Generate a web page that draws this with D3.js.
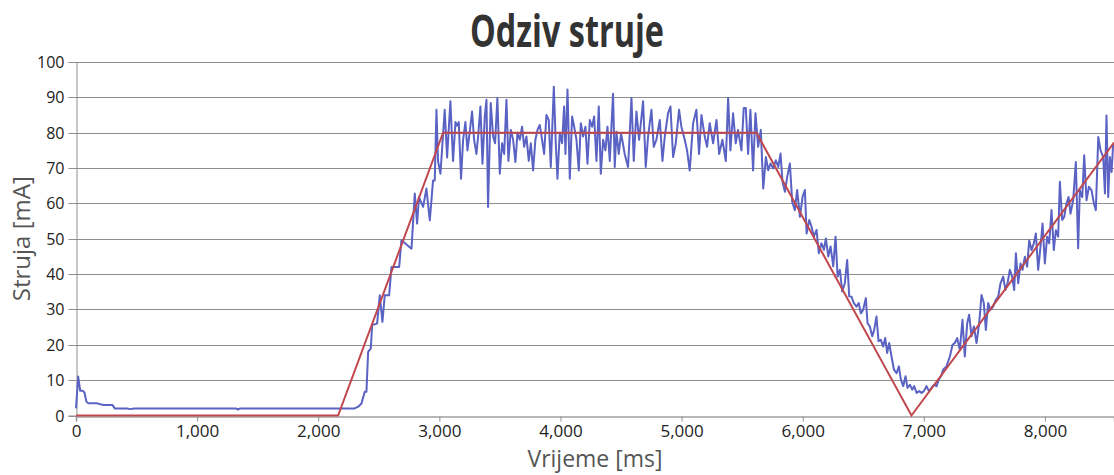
<!DOCTYPE html>
<html>
<head>
<meta charset="utf-8">
<script src="https://cdn.jsdelivr.net/npm/d3@7"></script>
<style>
  html, body { margin: 0; padding: 0; background: #fff; }
  svg { display: block; }
  text { font-family: "Open Sans", "DejaVu Sans", sans-serif; }
</style>
</head>
<body>
<svg id="chart" width="1114" height="475"></svg>
<script>
// measured current (blue) as [time ms, current mA]
var measured = [
  [0,2],[18,11],[35,7],[55,7],[70,6.5],[85,4],[100,3.5],[170,3.5],[200,3.2],[230,3],[300,3],[320,2],
  [420,2],[450,1.8],[480,2],[1320,2],[1337,1.7],[1355,2],[2300,2],[2330,2.5],[2357,3.4],[2384,6.7],
  [2398,6.7],[2412,18],[2434,19],[2445,25.6],[2486,26],[2508,34],[2530,26.5],[2549,34],[2585,34],
  [2605,42],[2668,42],[2687,49.6],[2770,47.2],[2797,62.8],[2816,54.3],[2832,61.8],[2866,59],
  [2893,64.2],[2921,55.2],[2948,66.5],[2962,66.5],
  [2976,86.5],[2989,72],[3009,68.4],[3044,86.5],[3064,73],[3091,88.9],[3113,72],[3133,83],[3146,82],
  [3160,83],[3179,67],[3196,78],[3215,83],[3232,75],[3251,80.3],[3270,86],[3287,78],[3306,74],
  [3320,78.9],[3339,87.4],[3356,71.2],[3375,84.6],[3389,89.3],[3402,59],[3424,88.4],[3444,78.9],
  [3460,77],[3479,89.8],[3499,68.4],[3518,77],[3535,74],[3554,89.3],[3570,72],[3590,80.8],[3609,78],
  [3628,71.7],[3645,80],[3664,78],[3683,81.7],[3700,76],[3719,78.9],[3738,72],[3755,77],[3774,69.3],
  [3793,78],[3810,80.8],[3829,82.2],[3848,78],[3865,74],[3884,85],[3903,83.6],[3920,70.3],[3945,93],
  [3961,77],[3975,67],[3994,80],[4013,77],[4030,87.4],[4041,74],[4058,92.2],[4077,67],[4096,84.6],
  [4113,81.7],[4132,78],[4151,69.3],[4168,82.7],[4187,78.9],[4206,81.7],[4223,71.2],[4242,83.6],
  [4261,81.7],[4278,84.6],[4297,72],[4316,87.4],[4333,68.4],[4352,78],[4371,75],[4388,81.7],
  [4407,72],[4434,91],[4448,70.3],[4462,80.3],[4481,74],
  [4500,79.8],[4515,77],[4530,74],[4558,70.3],[4586,89.8],[4605,72],[4627,86],[4649,78],[4668,84.1],
  [4682,88.9],[4704,70.3],[4723,78.9],[4751,86.5],[4770,76],[4792,78],[4820,83.6],[4842,72],
  [4861,78.9],[4888,85.5],[4908,87.4],[4930,73.1],[4952,77],[4979,86.5],[4998,81.7],[5026,78],
  [5045,75],[5067,69.3],[5095,82.7],[5122,86.5],[5144,74],[5164,85],[5191,78.9],[5210,76],
  [5232,82.7],[5260,77],[5288,83.6],[5310,74],[5337,78],[5365,72],[5384,89.8],[5403,75],[5425,85.5],
  [5447,77],[5466,80.8],[5494,75],[5513,87],[5530,87],[5549,74],[5568,86.5],[5590,69.3],[5610,85.5],
  [5632,76],[5654,80.8],
  [5674,64.2],[5696,73.1],[5715,69.4],[5734,71.3],[5756,69.9],[5778,72.2],[5798,70.3],[5817,74.1],
  [5833,66.1],[5853,63.3],[5872,67.5],[5894,71.3],[5913,60.5],[5935,58.1],[5954,63.8],[5977,56.2],
  [5999,61.9],[6018,63.8],[6032,51.5],[6054,55.3],[6073,53.4],[6092,50.6],[6114,52.5],[6133,45.9],
  [6155,48.7],[6175,46.9],[6191,50.1],[6211,45],[6230,47.8],[6252,42.2],[6271,50.6],[6288,39.3],
  [6307,41.2],[6326,35.1],[6348,37.5],[6367,44],[6384,33.7],
  [6403,33.6],[6422,31.8],[6444,30.8],[6463,31.8],[6480,28.9],[6499,29.9],[6521,33.2],[6535,26.1],
  [6554,25.2],[6574,22.4],[6590,24.2],[6609,28],[6626,21],[6645,21.4],[6664,19.5],[6681,21.9],
  [6697,17.7],[6714,20.5],[6733,16.7],[6753,13],[6775,12],[6794,13.9],[6810,10.2],[6830,8.3],
  [6849,11.1],[6865,7.8],[6885,8.7],[6904,7.3],[6920,8.3],[6940,6.4],[6962,6.9],[6981,6.4],[7000,6.9],
  [7022,8.3],[7042,6.9],[7064,7.8],[7083,8.7],[7105,8.3],[7124,10.2],[7141,11.1],
  [7160,13],[7187,13.9],[7215,16.7],[7237,20],[7256,20.5],[7275,21.9],[7297,18.6],[7319,27.1],
  [7338,16.7],[7358,26.1],[7374,28.5],[7394,22.4],[7413,25.2],[7435,20.5],[7457,26.1],[7476,34.1],
  [7495,31.8],[7512,24.2],[7531,31.8],[7550,29.9],[7572,30.8],[7594,32.7],[7614,33.6],[7633,37.4],
  [7655,39.3],[7674,35.5],[7691,37.4],[7710,41.2],[7729,39.3],[7746,35.5],[7760,45.9],[7779,37.4],
  [7798,43],[7815,41.2],[7834,44.9],[7853,42.1],[7870,49.6],[7889,46.8],[7908,48.7],[7925,51.5],
  [7944,41.2],[7963,47.7],[7980,54.3],[7999,43],[8018,50.6],[8035,48.7],[8054,58.1],[8073,46.8],
  [8090,52.4],[8109,50.6],[8123,66.1],[8142,55.3],[8159,56.2],[8178,60],[8195,61.8],[8211,57.1],
  [8233,60.9],[8255,71.7],[8274,47.3],[8288,63.7],[8308,61.8],[8324,73.6],[8343,60.9],[8363,64.7],
  [8385,63.7],[8404,60],[8420,58.1],[8440,78.8],[8459,75],[8481,73.1],[8495,62.8],[8508,84.9],
  [8522,61.8],[8536,73.1],[8550,68.9],[8563,76.9]
];

// reference (red) profile
var refTime = [0, 2164, 3031, 5618, 6898, 8570];
var refCurrent = [0, 0, 80, 80, 0, 77.2];

var xTicks = [0, 1000, 2000, 3000, 4000, 5000, 6000, 7000, 8000];
var yTicks = [0, 10, 20, 30, 40, 50, 60, 70, 80, 90, 100];

var chartTitle = "Odziv struje";
var xTitle = "Vrijeme [ms]";
var yTitle = "Struja [mA]";

var svg = d3.select("#chart");
// note: "top" is taken by window.top, so plot edges get their own names
var plotLeft = 76, plotRight = 1114, plotTop = 62, plotBottom = 415.5;

var x = d3.scaleLinear().domain([0, 8570]).range([plotLeft, plotRight]);
var y = d3.scaleLinear().domain([0, 100]).range([plotBottom, plotTop]);

// gridlines
svg.append("g").selectAll("line")
  .data(yTicks.filter(function(d){ return d > 0; }))
  .enter().append("line")
  .attr("x1", plotLeft).attr("x2", plotRight)
  .attr("y1", function(d){ return Math.round(y(d)) + 0.5; })
  .attr("y2", function(d){ return Math.round(y(d)) + 0.5; })
  .attr("stroke", "#8f8f8f").attr("stroke-width", 1);

// y axis
var yAxis = svg.append("g")
  .attr("transform", "translate(" + (plotLeft + 0.5) + ",0)")
  .call(d3.axisLeft(y).tickValues(yTicks).tickSize(8).tickPadding(4));
yAxis.select(".domain").attr("stroke", "#8f8f8f");
yAxis.selectAll(".tick line").attr("stroke", "#8f8f8f");
yAxis.selectAll(".tick").attr("transform", function(d){ return "translate(0," + (Math.round(y(d)) + 0.5) + ")"; });
yAxis.selectAll("text").attr("font-family", "'Open Sans', sans-serif").attr("font-size", 16).attr("fill", "#222");

// x axis
var xAxis = svg.append("g")
  .attr("transform", "translate(0," + (Math.round(plotBottom) + 0.5) + ")")
  .call(d3.axisBottom(x).tickValues(xTicks).tickFormat(d3.format(",")).tickSize(5).tickPadding(3));
xAxis.select(".domain").attr("stroke", "#a0a0a0").attr("stroke-width", 1.5);
xAxis.selectAll(".tick line").attr("stroke", "#8f8f8f");
xAxis.selectAll("text").attr("font-family", "'Open Sans', sans-serif").attr("font-size", 17).attr("fill", "#222");

// lines
var measuredLine = d3.line()
  .x(function(d){ return x(d[0]); })
  .y(function(d){ return y(d[1]); });

svg.append("path")
  .datum(measured)
  .attr("d", measuredLine)
  .attr("fill", "none")
  .attr("stroke", "#5a62c4")
  .attr("stroke-width", 2)
  .attr("stroke-linejoin", "round");

var refLine = d3.line()
  .x(function(d, i){ return x(refTime[i]); })
  .y(function(d){ return y(d); });

svg.append("path")
  .datum(refCurrent)
  .attr("d", refLine)
  .attr("fill", "none")
  .attr("stroke", "#c0474e")
  .attr("stroke-width", 2);

// titles
svg.append("text")
  .attr("x", 567).attr("y", 47)
  .attr("text-anchor", "middle")
  .attr("font-family", "'DejaVu Sans', sans-serif")
  .attr("font-weight", "bold")
  .attr("font-size", 44)
  .attr("textLength", 194)
  .attr("lengthAdjust", "spacingAndGlyphs")
  .attr("fill", "#333")
  .text(chartTitle);

svg.append("text")
  .attr("x", (plotLeft + plotRight) / 2).attr("y", 467)
  .attr("text-anchor", "middle")
  .attr("font-size", 23)
  .attr("fill", "#555")
  .text(xTitle);

svg.append("text")
  .attr("transform", "translate(30," + ((plotTop + plotBottom) / 2) + ") rotate(-90)")
  .attr("text-anchor", "middle")
  .attr("font-size", 24)
  .attr("fill", "#555")
  .text(yTitle);
</script>
</body>
</html>
